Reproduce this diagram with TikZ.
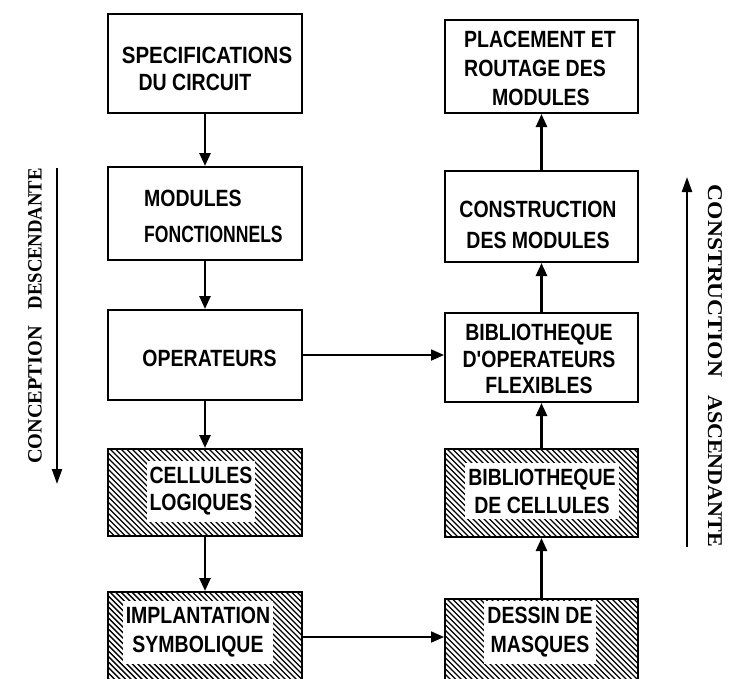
\documentclass[tikz,border=0pt]{standalone}
\usepackage{fontspec}
\usepackage{graphicx}
\setmainfont{Liberation Sans}
\newfontfamily\boxfont[FakeStretch=0.83]{Liberation Sans Bold}
\newfontfamily\sidefont{Liberation Serif Bold}
\usetikzlibrary{arrows.meta}
\tikzset{
  box/.style={draw, line width=2pt, minimum width=194pt, inner sep=0pt},
  hatched/.style={box, path picture={
      \foreach \i in {-240,-234.5,...,200}
        \draw[line width=1.4pt] ([xshift=\i pt]path picture bounding box.north west) -- ++(250,250);}},
  txt/.style={font=\boxfont\fontsize{23.5}{28}\selectfont, align=center, inner sep=0pt},
  wtxt/.style={txt, fill=white, inner xsep=3pt, inner ysep=6pt},
  conn/.style={line width=2.5pt, -{Triangle[length=13pt,width=11pt]}},
  hconn/.style={line width=1.8pt, -{Triangle[length=13pt,width=11pt]}},
  sidearr/.style={line width=2.2pt, -{Triangle[length=15pt,width=10pt]}},
  sidel/.style={font=\sidefont\fontsize{20.3}{20}\selectfont, inner sep=0pt},
  sider/.style={font=\sidefont\fontsize{21}{21}\selectfont, inner sep=0pt},
}
\begin{document}
\begin{tikzpicture}[x=1pt,y=-1pt]
\useasboundingbox (0,0) rectangle (730,678);
\clip (0,0) rectangle (730,678);
\fill[white] (0,0) rectangle (730,678);

% left column boxes
\node[box, minimum height=99pt] (L1) at (205,63.5) {};
\node[box, minimum height=93pt] (L2) at (205,213.5) {};
\node[box, minimum height=90pt] (L3) at (205,355) {};
\node[hatched, minimum height=87pt] (L4) at (205,492.5) {};
\node[hatched, minimum height=128pt] (L5) at (205,656) {};

% right column boxes
\node[box, minimum width=193pt, minimum height=93pt] (R1) at (541.5,66.5) {};
\node[box, minimum width=193pt, minimum height=91pt] (R2) at (541.5,216.5) {};
\node[box, minimum width=193pt, minimum height=89pt] (R3) at (541.5,357.5) {};
\node[hatched, minimum width=193pt, minimum height=88pt] (R4) at (541.5,493) {};
\node[hatched, minimum width=193pt, minimum height=121pt] (R5) at (541.5,659.5) {};

% texts
\node[txt] (t1) at (207,68.5) {\scalebox{1.05}[1]{SPECIFICATIONS}\\[-1pt]DU CIRCUIT\hspace*{24pt}};
\node[txt, align=left, anchor=west] (t2) at (144,216) {MODULES\\[8pt]\scalebox{0.9}[1]{FONCTIONNELS}};
\node[txt] (t3) at (209.5,358) {OPERATEURS};
\node[wtxt] (t4) at (201,491.5) {CELLULES\\[-1pt]LOGIQUES};
\node[wtxt] (t5) at (198,632.5) {IMPLANTATION\\[1pt]SYMBOLIQUE};
\node[txt, align=left, anchor=west] (t6) at (464,68) {PLACEMENT ET\\[1pt]ROUTAGE DES\\[1pt]\hspace*{28pt}MODULES};
\node[txt] (t7) at (538,224.5) {CONSTRUCTION\\[3pt]DES MODULES};
\node[txt] (t8) at (539,359) {BIBLIOTHEQUE\\[-1pt]D'OPERATEURS\\[-2pt]FLEXIBLES};
\node[wtxt] (t9) at (542,491) {BIBLIOTHEQUE\\[0pt]DE CELLULES};
\node[wtxt] (t10) at (540,632.5) {DESSIN DE\\[1pt]MASQUES};

% connectors
\draw[conn] (L1.south) -- (L2.north);
\draw[conn] (L2.south) -- (L3.north);
\draw[conn] (L3.south) -- (L4.north);
\draw[conn] (L4.south) -- (L5.north);
\draw[conn] (R5.north) -- (R4.south);
\draw[conn] (R4.north) -- (R3.south);
\draw[conn] (R3.north) -- (R2.south);
\draw[conn] (R2.north) -- (R1.south);
\draw[hconn] (L3.east) -- (R3.west |- L3.east);
\coordinate (hb) at (0,637);
\draw[hconn] (L5.east |- hb) -- (R5.west |- hb);

% side arrows and labels
\coordinate (la1) at (57,168);
\coordinate (la2) at (57,484);
\draw[sidearr] (la1) -- (la2);
\node[sidel, rotate=90] (lt) at (35,316) {CONCEPTION\hspace{17pt}\scalebox{0.92}[1]{DESCENDANTE}};
\coordinate (ra1) at (687,547);
\coordinate (ra2) at (687,177);
\draw[sidearr] (ra1) -- (ra2);
\node[sider, rotate=-90] (rt) at (715,366) {\scalebox{1.12}[1]{CONSTRUCTION}\hspace{18pt}\scalebox{1.05}[1]{ASCENDANTE}};
\end{tikzpicture}
\end{document}
